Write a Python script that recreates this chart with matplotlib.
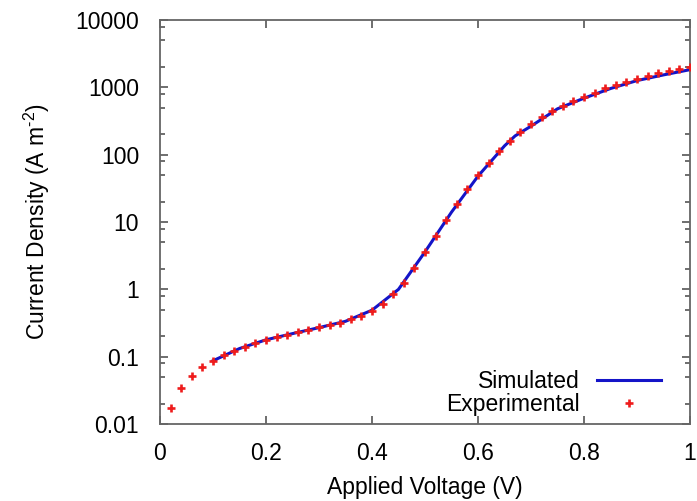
import numpy as np
import matplotlib
matplotlib.use('Agg')
from matplotlib import pyplot as plt
from matplotlib.ticker import LogLocator, FixedLocator, NullFormatter

# experimental points, every 0.02 V
exp_v = [0.02, 0.04, 0.06, 0.08, 0.10, 0.12, 0.14, 0.16, 0.18, 0.20,
         0.22, 0.24, 0.26, 0.28, 0.30, 0.32, 0.34, 0.36, 0.38, 0.40,
         0.42, 0.44, 0.46, 0.48, 0.50, 0.52, 0.54, 0.56, 0.58, 0.60,
         0.62, 0.64, 0.66, 0.68, 0.70, 0.72, 0.74, 0.76, 0.78, 0.80,
         0.82, 0.84, 0.86, 0.88, 0.90, 0.92, 0.94, 0.96, 0.98, 1.00]
exp_j = [0.0175, 0.0346, 0.052, 0.071, 0.087, 0.106, 0.123, 0.141, 0.158, 0.179,
         0.196, 0.212, 0.230, 0.252, 0.273, 0.293, 0.320, 0.359, 0.406, 0.483,
         0.607, 0.845, 1.26, 2.06, 3.56, 6.2, 10.7, 18.6, 30.7, 50,
         74.8, 112.7, 162, 218, 287, 361, 452, 537, 637, 730,
         837, 972, 1089, 1220, 1352, 1482, 1626, 1758, 1884, 2036]

# simulated curve
sim_v = [0.10, 0.15, 0.20, 0.25, 0.30, 0.35, 0.40, 0.45, 0.50, 0.55,
         0.60, 0.65, 0.67, 0.70, 0.75, 0.80, 0.85, 0.90, 0.95, 1.00]
sim_j = [0.087, 0.132, 0.178, 0.22, 0.27, 0.335, 0.49, 1.0, 3.6, 14,
         48, 135, 190, 265, 480, 690, 960, 1260, 1530, 1830]

xticks = [0, 0.2, 0.4, 0.6, 0.8, 1]
xlabels = ['0', '0.2', '0.4', '0.6', '0.8', '1']
yticks = [0.01, 0.1, 1, 10, 100, 1000, 10000]
ylabels = ['0.01', '0.1', '1', '10', '100', '1000', '10000']

fs = 16.5
plt.rcParams['font.family'] = ['Liberation Sans', 'DejaVu Sans']
plt.rcParams['font.size'] = fs
plt.rcParams['mathtext.fontset'] = 'custom'
plt.rcParams['mathtext.rm'] = 'Liberation Sans'

fig = plt.figure(figsize=(6.97, 5.01), dpi=100)
ax = fig.add_axes([160/697, 77/501, 530/697, 404/501])

ax.plot(sim_v, sim_j, color='#1414c8', lw=2.2, label='Simulated', zorder=2)
ax.plot(exp_v, exp_j, ls='none', marker='+', ms=5.5, mew=1.9, color='#ee1c1c',
        label='Experimental', zorder=3)

ax.set_yscale('log')
ax.set_xlim(0, 1)
ax.set_ylim(0.01, 10000)
ax.set_xticks(xticks)
ax.set_xticklabels(xlabels)
ax.set_yticks(yticks)
ax.set_yticklabels(ylabels)
ax.yaxis.set_minor_locator(LogLocator(base=10, subs=[2, 5, 8]))
ax.yaxis.set_minor_formatter(NullFormatter())
ax.xaxis.set_minor_locator(FixedLocator([]))

ax.tick_params(which='both', direction='in', top=True, right=True,
               color='#555555', width=1.2)
ax.tick_params(axis='x', pad=13)
ax.tick_params(axis='y', pad=15)
ax.tick_params(which='major', length=6)
ax.tick_params(which='minor', length=3.5)
for s in ax.spines.values():
    s.set_color('#666666')
    s.set_linewidth(1.3)

ax.set_xlabel('Applied Voltage (V)', labelpad=8)
ax.set_ylabel('Current Density (A m$^{\\mathregular{\u2010}2}$)', labelpad=17)

leg = ax.legend(loc='lower right', bbox_to_anchor=(0.945, 0.02),
                frameon=False, markerfirst=False, borderpad=0, borderaxespad=0,
                handlelength=2.8, handletextpad=0.74, labelspacing=0.0,
                fontsize=fs)

fig.savefig('out.png', dpi=100)
